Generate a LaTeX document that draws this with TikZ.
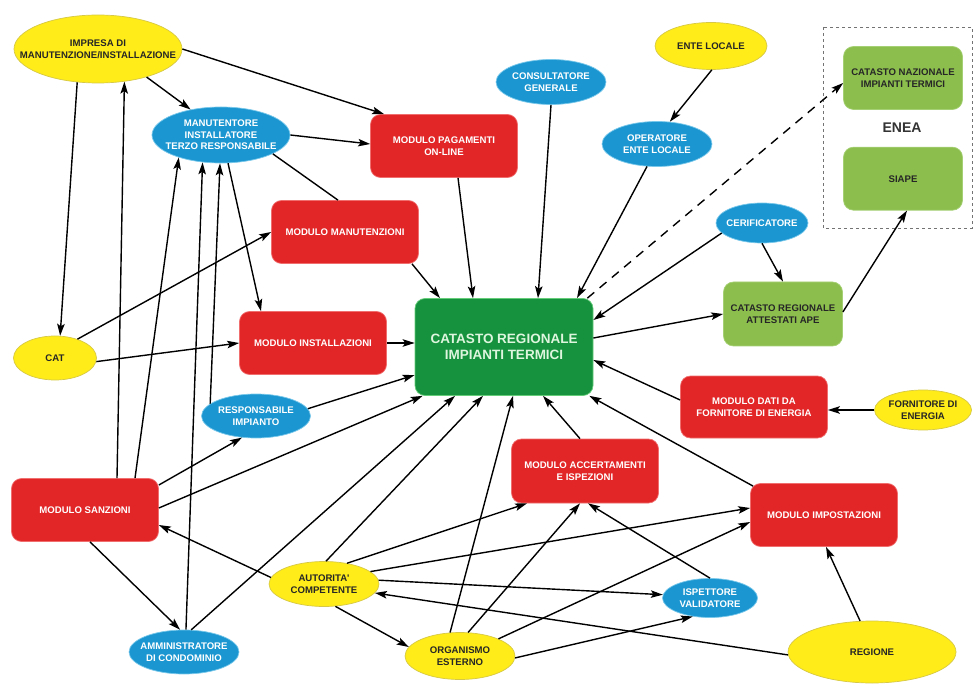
\documentclass[tikz,border=0pt]{standalone}
\usepackage{fontspec}
\setmainfont{Liberation Sans}
\usetikzlibrary{positioning,arrows.meta,shapes.geometric}
\definecolor{yelfill}{RGB}{255,236,24}
\definecolor{yeldraw}{RGB}{214,200,70}
\definecolor{blufill}{RGB}{28,150,208}
\definecolor{bludraw}{RGB}{120,200,235}
\definecolor{redfill}{RGB}{226,38,40}
\definecolor{reddraw}{RGB}{240,110,110}
\definecolor{grnfill}{RGB}{140,190,78}
\definecolor{grndraw}{RGB}{165,208,115}
\definecolor{corefill}{RGB}{22,146,62}
\definecolor{coredraw}{RGB}{100,205,120}
\definecolor{corefont}{RGB}{222,246,222}
\tikzset{
  elli/.style  ={ellipse, inner xsep=-8pt, inner ysep=0pt, align=center, line width=0.7pt},
  yel/.style   ={elli, fill=yelfill, draw=yeldraw, text=black!85},
  blu/.style   ={elli, fill=blufill, draw=bludraw, text=white},
  box/.style   ={draw, rounded corners=10pt, inner sep=0pt, align=center, line width=0.7pt,
                 minimum width=147pt, minimum height=63pt},
  mod/.style   ={box, fill=redfill, draw=reddraw, text=white},
  grnbox/.style={box, fill=grnfill, draw=grndraw, text=black!85, minimum width=119pt},
  core/.style  ={box, fill=corefill, draw=coredraw, text=corefont, font=\fontsize{13.5}{16.5}\selectfont\bfseries,
                 minimum width=178pt, minimum height=97pt},
  fl/.style    ={-{Stealth[length=12pt,width=7.5pt,inset=2.5pt]}, line width=1.4pt},
  dfl/.style   ={fl, dash pattern=on 9pt off 7pt},
  ln/.style    ={line width=1.4pt},
  grp/.style   ={draw=black!55, dash pattern=on 3pt off 3pt, line width=0.8pt}
}

\begin{document}
\begin{tikzpicture}[x=1pt, y=-1pt, font=\fontsize{9.6}{11.6}\selectfont\bfseries]
  \useasboundingbox (0,0) rectangle (974,684);

  \node[yel, minimum width=168pt, minimum height=68pt, inner xsep=-19pt](impresa) at (98,49) {IMPRESA DI\\MANUTENZIONE/INSTALLAZIONE};
  \node[blu, minimum width=138pt, minimum height=56pt](manut) at (221,135) {MANUTENTORE\\INSTALLATORE\\TERZO RESPONSABILE};
  \node[mod](pagamenti) at (444,146) {MODULO PAGAMENTI\\ON-LINE};
  \node[blu, minimum width=110pt, minimum height=45pt](consult) at (551,82) {CONSULTATORE\\GENERALE};
  \node[yel, minimum width=112pt, minimum height=47pt](entelocale) at (711,46) {ENTE LOCALE};
  \node[blu, minimum width=110pt, minimum height=45pt](operatore) at (657,144) {OPERATORE\\ENTE LOCALE};

  % ENEA
  \draw[grp] (823,27) rectangle (972,228);
  \node[grnbox](nazionale) at (903,78) {CATASTO NAZIONALE\\IMPIANTI TERMICI};
  \node[grnbox, below=37pt of nazionale](siape) {SIAPE};
  \node[font=\fontsize{14}{16}\selectfont\bfseries, text=black!80](enea) at (902,128) {ENEA};

  \node[blu, minimum width=92pt, minimum height=40pt](certif) at (762,223) {CERIFICATORE};
  \node[grnbox, minimum height=64pt](ape) at (783,314) {CATASTO REGIONALE\\ATTESTATI APE};
  \node[core](catasto) at (504,347) {CATASTO REGIONALE\\IMPIANTI TERMICI};
  \node[mod](manutenzioni) at (345,232) {MODULO MANUTENZIONI};
  \node[mod](installazioni) at (313,343) {MODULO INSTALLAZIONI};
  \node[yel, minimum width=83pt, minimum height=44pt](cat) at (55,358) {CAT};
  \node[blu, minimum width=109pt, minimum height=44pt](responsabile) at (256,416) {RESPONSABILE\\IMPIANTO};
  \node[mod](sanzioni) at (85,510) {MODULO SANZIONI};
  \node[blu, minimum width=110pt, minimum height=44pt](amministratore) at (184,652) {AMMINISTRATORE\\DI CONDOMINIO};
  \node[yel, minimum width=110pt, minimum height=45pt](autorita) at (324,584) {AUTORITA\textquotesingle\\COMPETENTE};
  \node[yel, minimum width=110pt, minimum height=47pt](organismo) at (460,656) {ORGANISMO\\ESTERNO};
  \node[mod, minimum height=64pt](accertamenti) at (585,471) {MODULO ACCERTAMENTI\\E ISPEZIONI};
  \node[mod, minimum height=62pt](dati) at (754,407) {MODULO DATI DA\\FORNITORE DI ENERGIA};
  \node[yel, minimum width=97pt, minimum height=40pt](fornitore) at (923,410) {FORNITORE DI\\ENERGIA};
  \node[mod](impostazioni) at (824,515) {MODULO IMPOSTAZIONI};
  \node[blu, minimum width=95pt, minimum height=39pt](ispettore) at (710,598) {ISPETTORE\\VALIDATORE};
  \node[yel, minimum width=168pt, minimum height=62pt](regione) at (872,652) {REGIONE};

  % top left
  \draw[fl](impresa.-30)--(manut.140);
  \draw[fl](impresa.east)--([xshift=14pt]pagamenti.north west);
  \draw[fl](impresa.-122)--(cat.77);
  \draw[fl]([xshift=32pt]sanzioni.north)--(impresa.-51);
  \draw[fl]([xshift=50pt]sanzioni.north)--(manut.-152);
  \draw[fl](amministratore.85)--(manut.-124);
  \draw[fl](responsabile.165)--(manut.-92);
  \draw[fl](manut.-76)--([xshift=-52pt]installazioni.north);
  \draw[fl](manut.east)--([yshift=2pt]pagamenti.west);
  \draw[ln](manut.-20)--([xshift=-7pt]manutenzioni.north);
  \draw[fl](cat.40)--(manutenzioni.west);
  \draw[fl](cat.-5)--(installazioni.west);

  % into the regional register
  \draw[fl]([xshift=67pt]manutenzioni.south)--([xshift=-64pt]catasto.north);
  \draw[fl]([xshift=14pt]pagamenti.south)--([xshift=-31pt]catasto.north);
  \draw[fl](consult.south)--([xshift=34pt]catasto.north);
  \draw[fl](operatore.-114)--([xshift=73pt]catasto.north);
  \draw[fl](entelocale.-88)--(operatore.60);
  \draw[fl](installazioni.east)--(installazioni.east -| catasto.west);
  \draw[fl](responsabile.8)--([yshift=-28pt]catasto.west);
  \draw[fl]([yshift=2pt]sanzioni.east)--([xshift=8pt]catasto.south west);
  \draw[fl](amministratore.72)--([xshift=-49pt]catasto.south);
  \draw[fl](autorita.85)--([xshift=-21pt]catasto.south);
  \draw[fl](organismo.113)--([xshift=9pt]catasto.south);
  \draw[fl]([xshift=-5pt]accertamenti.north)--([xshift=39pt]catasto.south);
  \draw[fl]([shift={(3pt,-3pt)}]impostazioni.north west)--([xshift=-4pt]catasto.south east);
  \draw[fl]([yshift=7pt]dati.west)--([yshift=-13pt]catasto.east);
  \draw[fl](certif.-166)--([yshift=27pt]catasto.east);

  % right side
  \draw[dfl]([xshift=-6pt]catasto.north east)--([yshift=-5pt]nazionale.west);
  \draw[fl](certif.south)--(ape.north);
  \draw[fl]([yshift=9pt]catasto.east)--(ape.west);
  \draw[fl]([yshift=2pt]ape.east)--([xshift=4pt]siape.south);
  \draw[fl](fornitore)--(fornitore -| dati.east);

  % bottom
  \draw[fl]([yshift=25pt]sanzioni.east)--(responsabile.-123);
  \draw[fl]([xshift=5pt]sanzioni.south)--(amministratore.100);
  \draw[fl](autorita.173)--([yshift=-15pt]sanzioni.east);
  \draw[fl](autorita.42)--([xshift=-58pt]accertamenti.south);
  \draw[fl](autorita.15)--([yshift=7pt]impostazioni.west);
  \draw[fl](autorita.4)--(ispettore.176);
  \draw[fl](autorita.-63)--(organismo.170);
  \draw[fl](regione.-178)--(autorita.-10);
  \draw[fl](organismo.71)--([xshift=-5pt]accertamenti.south);
  \draw[fl](organismo.24)--([yshift=-7pt]impostazioni.west);
  \draw[fl](organismo.-2)--(ispettore.-133);
  \draw[fl](ispettore.north)--([xshift=3pt]accertamenti.south);
  \draw[fl](regione.111)--([xshift=2pt]impostazioni.south);
\end{tikzpicture}
\end{document}
